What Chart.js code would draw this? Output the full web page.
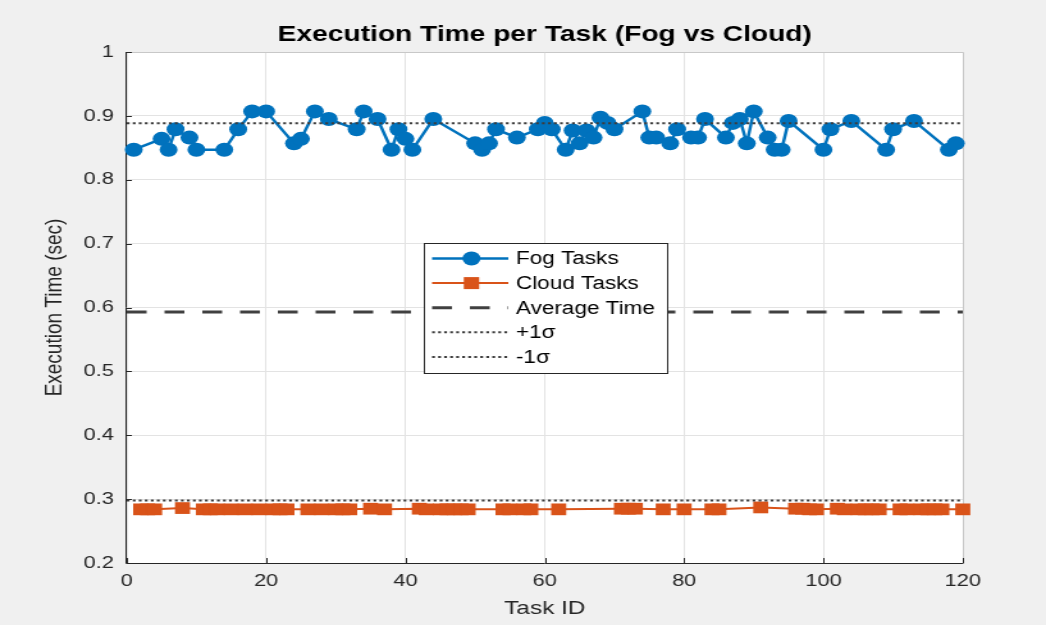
<!DOCTYPE html>
<html>
<head>
<meta charset="utf-8">
<title>Execution Time per Task (Fog vs Cloud)</title>
<script src="https://cdn.jsdelivr.net/npm/chart.js@4.4.1/dist/chart.umd.min.js"></script>
<style>
  html, body { margin: 0; padding: 0; background: #f0f0f0; overflow: hidden; }
  #chart { display: block; }
</style>
</head>
<body>
<!-- the reference is a MATLAB figure stretched sideways, so the canvas is drawn narrow and scaled up by CSS -->
<canvas id="chart" width="817" height="625" style="width:1046px;height:625px"></canvas>
<script>
// Fog tasks (task id -> execution time in sec)
const fogTaskIds = [1, 5, 6, 7, 9, 10, 14, 16, 18, 20, 24, 25, 27, 29, 33, 34, 36, 38, 39, 40, 41, 44,
    50, 51, 52, 53, 56, 59, 60, 61, 63, 64, 65, 66, 67, 68, 69, 70, 74, 75, 76, 78, 79, 81, 82, 83,
    86, 87, 88, 89, 90, 92, 93, 94, 95, 100, 101, 104, 109, 110, 113, 118, 119];
const fogTimes = [0.847, 0.864, 0.847, 0.879, 0.866, 0.847, 0.847, 0.879, 0.907, 0.907, 0.857, 0.864,
    0.907, 0.895, 0.879, 0.907, 0.895, 0.847, 0.879, 0.864, 0.847, 0.895,
    0.857, 0.847, 0.857, 0.879, 0.866, 0.879, 0.889, 0.879, 0.847, 0.877, 0.857, 0.877, 0.866, 0.897,
    0.889, 0.879, 0.907, 0.866, 0.866, 0.857, 0.879, 0.866, 0.866, 0.895,
    0.866, 0.889, 0.895, 0.857, 0.907, 0.866, 0.847, 0.847, 0.892, 0.847, 0.879, 0.892, 0.847, 0.879,
    0.892, 0.847, 0.857];

// Cloud tasks
const cloudTaskIds = [2, 3, 4, 8, 11, 12, 13, 15, 17, 19, 21, 22, 23, 26, 28, 30, 31, 32, 35, 37,
    42, 43, 45, 46, 47, 48, 49, 54, 55, 57, 58, 62, 71, 72, 73, 77, 80, 84, 85, 91,
    96, 97, 98, 99, 102, 103, 105, 106, 107, 108, 111, 112, 114, 115, 116, 117, 120];
const cloudTimes = [0.284, 0.284, 0.284, 0.286, 0.284, 0.284, 0.284, 0.284, 0.284, 0.284, 0.284, 0.284,
    0.284, 0.284, 0.284, 0.284, 0.284, 0.284, 0.285, 0.284,
    0.285, 0.284, 0.284, 0.284, 0.284, 0.284, 0.284, 0.284, 0.284, 0.284, 0.284, 0.284, 0.285, 0.285,
    0.285, 0.284, 0.284, 0.284, 0.284, 0.287,
    0.285, 0.285, 0.284, 0.284, 0.285, 0.284, 0.284, 0.284, 0.284, 0.284, 0.284, 0.284, 0.284, 0.284,
    0.284, 0.284, 0.284];

const xTicks = [0, 20, 40, 60, 80, 100, 120];
const yTicks = [0.2, 0.3, 0.4, 0.5, 0.6, 0.7, 0.8, 0.9, 1];

// Average and standard deviation over all tasks
const allTimes = fogTimes.concat(cloudTimes);
const avgTime = allTimes.reduce((s, v) => s + v, 0) / allTimes.length;
const stdTime = Math.sqrt(allTimes.reduce((s, v) => s + (v - avgTime) ** 2, 0) / (allTimes.length - 1));

const FONT = '"Liberation Sans", Arial, Helvetica, sans-serif';
const FOG_COLOR = '#0072BD';
const CLOUD_COLOR = '#D95319';
const AVG_COLOR = '#404040';
const SIGMA_COLOR = '#3c3c3c';
const AVG_DASH = [15.5, 14];
const SIGMA_DASH = [2.2, 2.5];

Chart.defaults.font.family = FONT;
Chart.defaults.color = '#262626';

function hLine(y) {
    return [{ x: xTicks[0], y: y }, { x: xTicks[xTicks.length - 1], y: y }];
}

// Figure + axes background
const figureBackground = {
    id: 'figureBackground',
    beforeDraw(chart) {
        const { ctx, chartArea: a } = chart;
        ctx.save();
        ctx.fillStyle = '#f0f0f0';
        ctx.fillRect(0, 0, chart.width, chart.height);
        ctx.fillStyle = '#ffffff';
        ctx.fillRect(a.left, a.top, a.right - a.left, a.bottom - a.top);
        ctx.restore();
    }
};

// MATLAB style axes box with inward ticks
const axesBox = {
    id: 'axesBox',
    beforeDatasetsDraw(chart) {
        const { ctx, chartArea: a, scales } = chart;
        ctx.save();
        ctx.lineWidth = 1;
        ctx.strokeStyle = '#c8c8c8';
        ctx.beginPath();
        ctx.moveTo(a.left, a.top + 0.5);
        ctx.lineTo(a.right + 0.5, a.top + 0.5);
        ctx.lineTo(a.right + 0.5, a.bottom);
        ctx.stroke();
        ctx.strokeStyle = '#262626';
        ctx.beginPath();
        ctx.moveTo(a.left - 0.5, a.top);
        ctx.lineTo(a.left - 0.5, a.bottom + 0.5);
        ctx.lineTo(a.right + 0.5, a.bottom + 0.5);
        // ticks
        yTicks.forEach(v => {
            const y = Math.round(scales.y.getPixelForValue(v)) + 0.5;
            ctx.moveTo(a.left, y);
            ctx.lineTo(a.left + 4, y);
        });
        xTicks.forEach(v => {
            const x = Math.round(scales.x.getPixelForValue(v)) + 0.5;
            ctx.moveTo(x, a.bottom);
            ctx.lineTo(x, a.bottom - 5);
        });
        ctx.stroke();
        ctx.restore();
    }
};

// Legend box in the middle of the plot
const insideLegend = {
    id: 'insideLegend',
    afterDraw(chart) {
        const ctx = chart.ctx;
        const box = { left: 331.5, top: 243.5, right: 521.5, bottom: 373.5 };
        const x0 = 337.5, x1 = 397, tx = 403;
        const rows = [
            { label: 'Fog Tasks', color: FOG_COLOR, width: 2.5, dash: [], marker: 'circle' },
            { label: 'Cloud Tasks', color: CLOUD_COLOR, width: 2, dash: [], marker: 'rect' },
            { label: 'Average Time', color: AVG_COLOR, width: 3, dash: AVG_DASH },
            { label: '+1σ', color: SIGMA_COLOR, width: 2, dash: SIGMA_DASH },
            { label: '-1σ', color: SIGMA_COLOR, width: 2, dash: SIGMA_DASH }
        ];
        ctx.save();
        ctx.fillStyle = '#ffffff';
        ctx.fillRect(box.left, box.top, box.right - box.left, box.bottom - box.top);
        ctx.strokeStyle = '#262626';
        ctx.lineWidth = 1;
        ctx.strokeRect(box.left, box.top, box.right - box.left, box.bottom - box.top);

        rows.forEach((r, i) => {
            const y = 258.5 + i * 24.6;
            ctx.strokeStyle = r.color;
            ctx.lineWidth = r.width;
            ctx.setLineDash(r.dash);
            ctx.beginPath();
            ctx.moveTo(x0, y);
            ctx.lineTo(x1, y);
            ctx.stroke();
            ctx.setLineDash([]);
            const mx = (x0 + x1) / 2 + 1;
            ctx.fillStyle = r.color;
            if (r.marker === 'circle') {
                ctx.beginPath();
                ctx.arc(mx, y, 7, 0, Math.PI * 2);
                ctx.fill();
            } else if (r.marker === 'rect') {
                ctx.fillRect(mx - 6, y - 6, 12, 12);
            }
            ctx.fillStyle = '#000000';
            ctx.font = '17.6px ' + FONT;
            ctx.textBaseline = 'middle';
            ctx.fillText(r.label, tx, y + 1);
        });
        ctx.restore();
    }
};

document.addEventListener('DOMContentLoaded', function() {
    const ctx = document.getElementById('chart').getContext('2d');
    const chart = new Chart(ctx, {
        type: 'line',
        data: {
            datasets: [{
                label: 'Fog Tasks',
                data: fogTaskIds.map((id, i) => ({ x: id, y: fogTimes[i] })),
                borderColor: FOG_COLOR,
                backgroundColor: FOG_COLOR,
                borderWidth: 2.5,
                pointStyle: 'circle',
                pointRadius: 7,
                pointBorderWidth: 0,
                tension: 0,
                clip: false,
                order: 3
            }, {
                label: 'Cloud Tasks',
                data: cloudTaskIds.map((id, i) => ({ x: id, y: cloudTimes[i] })),
                borderColor: CLOUD_COLOR,
                backgroundColor: CLOUD_COLOR,
                borderWidth: 2,
                pointStyle: 'rect',
                pointRadius: 8.3,
                pointBorderWidth: 0,
                tension: 0,
                clip: false,
                order: 2
            }, {
                label: 'Average Time',
                data: hLine(avgTime),
                borderColor: AVG_COLOR,
                borderWidth: 3,
                borderDash: AVG_DASH,
                pointRadius: 0,
                order: 1
            }, {
                label: '+1σ',
                data: hLine(avgTime + stdTime),
                borderColor: SIGMA_COLOR,
                borderWidth: 2,
                borderDash: SIGMA_DASH,
                pointRadius: 0,
                order: 0
            }, {
                label: '-1σ',
                data: hLine(avgTime - stdTime),
                borderColor: SIGMA_COLOR,
                borderWidth: 2,
                borderDash: SIGMA_DASH,
                pointRadius: 0,
                order: 0
            }]
        },
        options: {
            responsive: false,
            animation: false,
            layout: {
                padding: { left: 0, right: 65, top: 0, bottom: 0 }
            },
            plugins: {
                legend: { display: false },
                tooltip: { enabled: false },
                title: {
                    display: true,
                    text: 'Execution Time per Task (Fog vs Cloud)',
                    fullSize: false,
                    color: '#000000',
                    font: { size: 22, weight: 'bold' },
                    padding: { top: 21.8, bottom: 3.8 }
                }
            },
            scales: {
                x: {
                    type: 'linear',
                    min: xTicks[0],
                    max: xTicks[xTicks.length - 1],
                    afterBuildTicks: scale => { scale.ticks = xTicks.map(v => ({ value: v })); },
                    afterFit: scale => { scale.height = 62; },
                    grid: { color: '#e3e3e3', drawTicks: false },
                    border: { display: false },
                    ticks: { font: { size: 17 }, padding: 8, maxRotation: 0 },
                    title: {
                        display: true,
                        text: 'Task ID',
                        font: { size: 19 },
                        padding: { top: 0, bottom: 4.5 }
                    }
                },
                y: {
                    min: yTicks[0],
                    max: yTicks[yTicks.length - 1],
                    afterBuildTicks: scale => { scale.ticks = yTicks.map(v => ({ value: v })); },
                    afterFit: scale => { scale.width = 99; },
                    grid: { color: '#e3e3e3', drawTicks: false },
                    border: { display: false },
                    ticks: {
                        font: { size: 17 },
                        padding: 10,
                        callback: v => String(Number(v.toFixed(1)))
                    },
                    title: {
                        display: true,
                        text: 'Execution Time (sec)',
                        font: { size: 19 },
                        padding: { top: 31.6, bottom: 0 }
                    }
                }
            }
        },
        plugins: [figureBackground, axesBox, insideLegend]
    });
});
</script>
</body>
</html>
